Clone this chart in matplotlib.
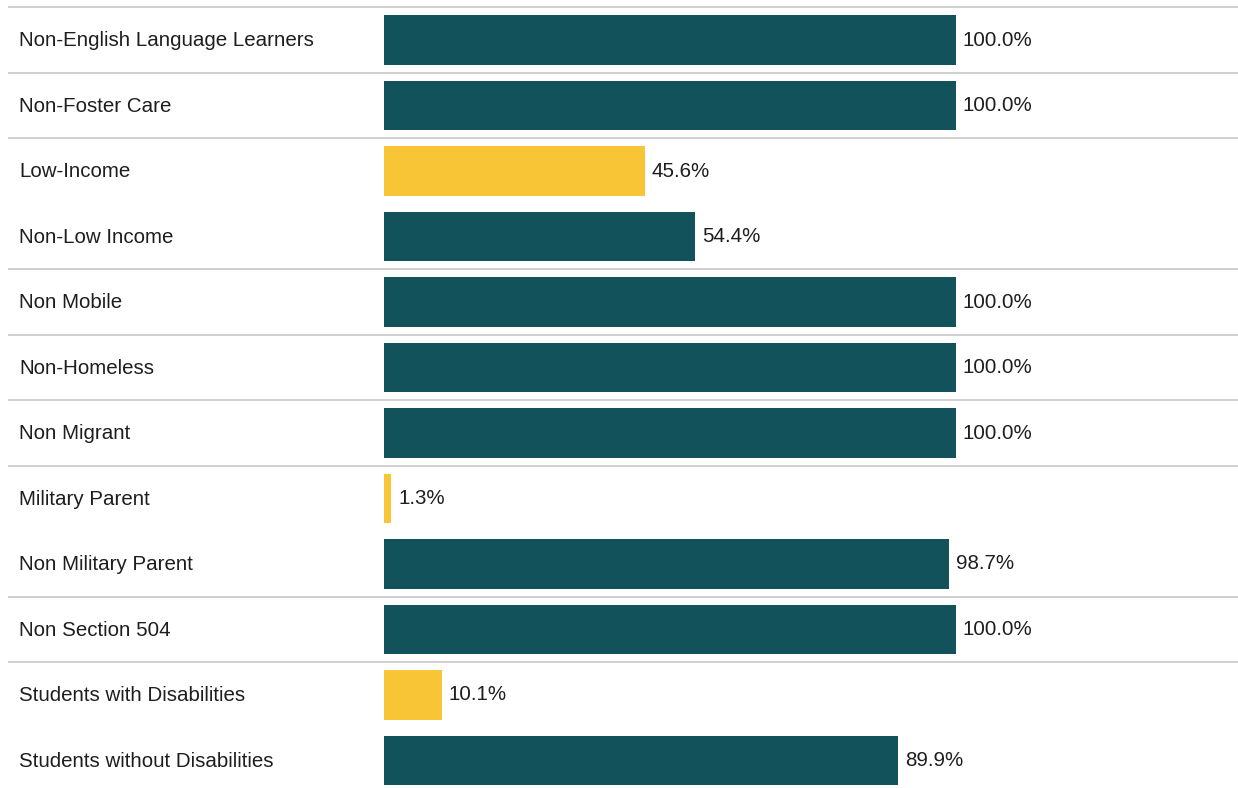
import matplotlib.pyplot as plt

# Datos
categories = ['Non-English Language Learners', 'Non-Foster Care', 'Low-Income',
              'Non-Low Income', 'Non Mobile', 'Non-Homeless', 'Non Migrant',
              'Military Parent', 'Non Military Parent', 'Non Section 504',
              'Students with Disabilities', 'Students without Disabilities']
values = [100.0, 100.0, 45.6, 54.4, 100.0, 100.0, 100.0, 1.3, 98.7, 100.0, 10.1, 89.9]
highlight = [False, False, True, False, False, False, False, True, False, False, True, False]
# separadores entre grupos (en unidades de fila)
separators = [-0.5, 0.5, 1.5, 3.5, 4.5, 5.5, 6.5, 8.5, 9.5]

teal = '#11525B'
yellow = '#F8C537'

plt.rcParams['font.family'] = ['Liberation Sans', 'DejaVu Sans']

fig = plt.figure(figsize=(12.38, 7.88), dpi=100)
ax = fig.add_axes([0, 0, 1, 1])

y = list(range(len(categories)))
colors = [yellow if h else teal for h in highlight]
ax.barh(y, values, height=0.76, color=colors, zorder=2)

for i, v in enumerate(values):
    ax.annotate(f'{v:.1f}%', (v, i), xytext=(5, 0), textcoords='offset points',
                va='center', ha='left', fontsize=14.8, color='#1e1e1e')
    ax.text(-63.8, i + 0.01, categories[i], va='center', ha='left',
            fontsize=14.8, color='#1e1e1e')

for s in separators:
    ax.hlines(s, -65.7, 150, color='#cccccc', linewidth=1.3, zorder=1)

ax.set_xlim(-67.13, 149.3)
ax.set_ylim(11.42, -0.611)
ax.axis('off')

fig.savefig('out.png', dpi=100, facecolor='white')
